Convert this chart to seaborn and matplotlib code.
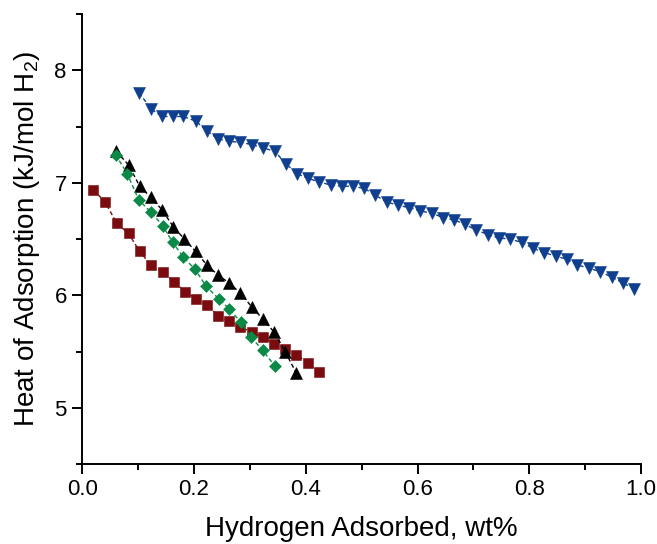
import matplotlib
matplotlib.use("Agg")
import matplotlib.pyplot as plt
from matplotlib.ticker import MultipleLocator
import pandas as pd
import seaborn as sns

# data
blue_x = [0.102, 0.123, 0.142, 0.162, 0.181, 0.203, 0.224, 0.243, 0.263, 0.283,
          0.304, 0.324, 0.345, 0.364, 0.385, 0.404, 0.423, 0.445, 0.465, 0.484,
          0.505, 0.524, 0.545, 0.565, 0.585, 0.605, 0.626, 0.646, 0.666, 0.685,
          0.705, 0.726, 0.745, 0.766, 0.786, 0.806, 0.826, 0.847, 0.867, 0.886,
          0.907, 0.927, 0.948, 0.967, 0.987]
blue_y = [7.80, 7.66, 7.59, 7.59, 7.59, 7.55, 7.46, 7.39, 7.37, 7.36,
          7.34, 7.31, 7.28, 7.17, 7.08, 7.04, 7.01, 6.98, 6.97, 6.97,
          6.95, 6.89, 6.83, 6.80, 6.78, 6.75, 6.73, 6.69, 6.67, 6.63,
          6.58, 6.54, 6.51, 6.50, 6.47, 6.42, 6.38, 6.35, 6.32, 6.27,
          6.24, 6.21, 6.16, 6.11, 6.06]

black_x = [0.061, 0.083, 0.103, 0.123, 0.143, 0.163, 0.183, 0.203, 0.223, 0.243,
           0.263, 0.283, 0.303, 0.323, 0.344, 0.363, 0.383]
black_y = [7.28, 7.16, 6.97, 6.87, 6.76, 6.61, 6.50, 6.39, 6.27, 6.18,
           6.11, 6.02, 5.90, 5.79, 5.67, 5.50, 5.31]

green_x = [0.060, 0.081, 0.101, 0.123, 0.144, 0.162, 0.181, 0.202, 0.222, 0.244,
           0.263, 0.284, 0.302, 0.323, 0.345]
green_y = [7.25, 7.08, 6.85, 6.74, 6.62, 6.47, 6.34, 6.23, 6.08, 5.97,
           5.88, 5.76, 5.63, 5.51, 5.37]

red_x = [0.020, 0.041, 0.062, 0.083, 0.103, 0.123, 0.144, 0.165, 0.184, 0.204,
         0.224, 0.243, 0.263, 0.283, 0.304, 0.323, 0.344, 0.363, 0.383, 0.404,
         0.424]
red_y = [6.94, 6.83, 6.64, 6.55, 6.39, 6.27, 6.21, 6.12, 6.03, 5.97,
         5.91, 5.82, 5.77, 5.72, 5.67, 5.63, 5.57, 5.52, 5.47, 5.40,
         5.32]

sns.set_style("ticks")
plt.rcParams['font.family'] = ['Liberation Sans', 'DejaVu Sans']
plt.rcParams['mathtext.fontset'] = 'custom'
plt.rcParams['mathtext.rm'] = 'Liberation Sans'
for key in ['text.color', 'axes.labelcolor', 'xtick.color', 'ytick.color',
            'axes.edgecolor']:
    plt.rcParams[key] = 'black'

fig, ax = plt.subplots(figsize=(6.57, 5.44), dpi=100)
fig.subplots_adjust(left=0.125, right=0.976, bottom=0.147, top=0.974)

series = [
    (red_x, red_y, '#7a0c10', 's', 6.5),
    (blue_x, blue_y, '#0f3f8e', 'v', 8.5),
    (black_x, black_y, '#000000', '^', 8.5),
    (green_x, green_y, '#0b8a47', 'D', 6.5),
]
for xs, ys, col, mk, ms in series:
    df = pd.DataFrame({'x': xs, 'y': ys})
    sns.lineplot(data=df, x='x', y='y', ax=ax, color=col, marker=mk,
                 markersize=ms, markeredgewidth=0.4, markeredgecolor=col,
                 linewidth=1.0, estimator=None, sort=False)
    ax.lines[-1].set_linestyle((0, (3, 2)))

ax.set_xlim(0, 1.0)
ax.set_ylim(4.5, 8.5)
ax.xaxis.set_major_locator(MultipleLocator(0.2))
ax.xaxis.set_minor_locator(MultipleLocator(0.1))
ax.yaxis.set_minor_locator(MultipleLocator(0.5))
ax.set_yticks([5, 6, 7, 8])
ax.tick_params(which='major', direction='out', length=7, width=1.4,
               labelsize=16, pad=4)
ax.tick_params(which='minor', direction='out', length=4, width=1.4)
for s in ['left', 'bottom']:
    ax.spines[s].set_linewidth(1.4)
sns.despine(ax=ax)

ax.set_xlabel('Hydrogen Adsorbed, wt%', fontsize=20, labelpad=11)
ax.set_ylabel(r'Heat of Adsorption (kJ/mol H$_\mathregular{2}$)', fontsize=20,
              labelpad=9)

plt.savefig('out.png', dpi=100)
